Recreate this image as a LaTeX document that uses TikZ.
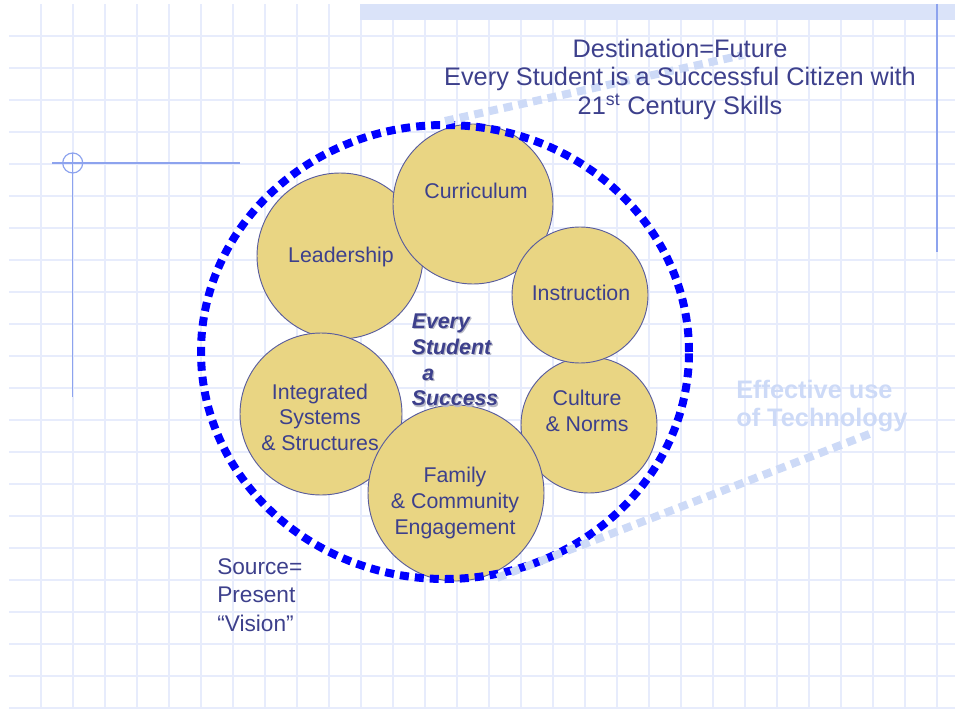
\documentclass[tikz,border=0pt]{standalone}
\usepackage{fontspec}
\setmainfont{Liberation Sans}
\usepackage{tikz}
\usetikzlibrary{shapes.geometric}
\definecolor{cnavy}{HTML}{3D408C}
\definecolor{cgold}{HTML}{E9D583}
\definecolor{cring}{HTML}{0000FF}
\definecolor{cpale}{HTML}{CDDAF7}
\definecolor{cgrid}{HTML}{E7ECFC}
\definecolor{cband}{HTML}{DAE3F9}
\definecolor{cmark}{HTML}{8DA3EE}
\definecolor{cshade}{HTML}{B8B9C6}

\begin{document}
\begin{tikzpicture}[
  x=0.75pt, y=-0.75pt,
  gridline/.style={draw=cgrid, line width=1pt},
  bubble/.style={circle, draw=cnavy!85, fill=cgold, line width=0.7pt, inner sep=0pt},
  bubtext/.style={text=cnavy, align=center, inner sep=0pt, font=\fontsize{16}{19.2}\selectfont},
  ring/.style={ellipse, draw=cring, line width=6pt, dash pattern=on 6.75pt off 4.5pt, inner sep=0pt},
  techline/.style={draw=cpale, line width=6pt, dash pattern=on 6.75pt off 4.5pt},
]
\useasboundingbox (0,0) rectangle (955,709);

% squared paper
\foreach \gx in {41,73,...,937} \draw[gridline] (\gx,4) -- (\gx,709);
\foreach \gy in {36,68,...,708} \draw[gridline] (9,\gy) -- (955,\gy);
\fill[cband] (360,4) rectangle (955,20.5);
\draw[cmark, line width=1pt] (937,4) -- (937,252);
\draw[cmark, line width=0.9pt] (52,163) -- (240,163) (72.7,153) -- (72.7,397);
\draw[cmark, line width=0.9pt] (72.7,163) circle (10);

% the six bubbles
\node[bubble, minimum size=124.5pt] (lead) at (340,256) {};
\node[bubble, minimum size=120pt] (curr) at (473,204) {};
\node[bubble, minimum size=102pt] (cult) at (589,425) {};
\node[bubble, minimum size=102pt] (instr) at (580,295) {};
\node[bubble, minimum size=121.5pt] (integ) at (321,414) {};
\node[bubble, minimum size=132pt] (family) at (456,493) {};

\node[bubtext] (leadtext) at (341,257) {Leadership};
\node[bubtext] (currtext) at (476,191) {Curriculum};
\node[bubtext] (instrtext) at (581,293) {Instruction};
\node[bubtext] (culttext) at (587,411) {Culture\\\& Norms};
\node[bubtext] (integtext) at (320,417) {Integrated\\Systems\\\& Structures};
\node[bubtext] (familytext) at (455,503) {Family\\\& Community\\Engagement};

% dotted ring and the pale tube towards technology
\node[ring, minimum width=366pt, minimum height=340.5pt] (ring) at (445,352) {};
\coordinate (techtop) at (743,55);
\coordinate (techlow) at (872,433);
\draw[techline] (ring.north) -- (techtop);
\draw[techline] (ring.-77) -- (techlow);

% labels
\node[text=cnavy, align=center, inner sep=0pt, font=\fontsize{19}{21.4}\selectfont] (dest) at (680,79)
  {Destination=Future\\Every Student is a Successful Citizen with\\21\textsuperscript{st} Century Skills};
\node[text=cnavy, align=left, anchor=west, inner sep=0pt, font=\fontsize{17}{21.4}\selectfont] (source) at (217,595)
  {Source=\\Present\\“Vision”};
\node[text=cpale, align=left, anchor=west, inner sep=0pt, font=\fontsize{19}{21}\selectfont\bfseries] (tech) at (736,406)
  {Effective use\\of Technology};
\node[text=cshade, align=left, anchor=west, inner sep=0pt, font=\fontsize{16}{19.3}\selectfont\bfseries\itshape] (mottoshade) at (412.8,361.3)
  {Every\\Student\\\hspace*{0.5em}a\\Success};
\node[text=cnavy, align=left, anchor=west, inner sep=0pt, font=\fontsize{16}{19.3}\selectfont\bfseries\itshape] (motto) at (411.5,360)
  {Every\\Student\\\hspace*{0.5em}a\\Success};
\end{tikzpicture}
\end{document}
